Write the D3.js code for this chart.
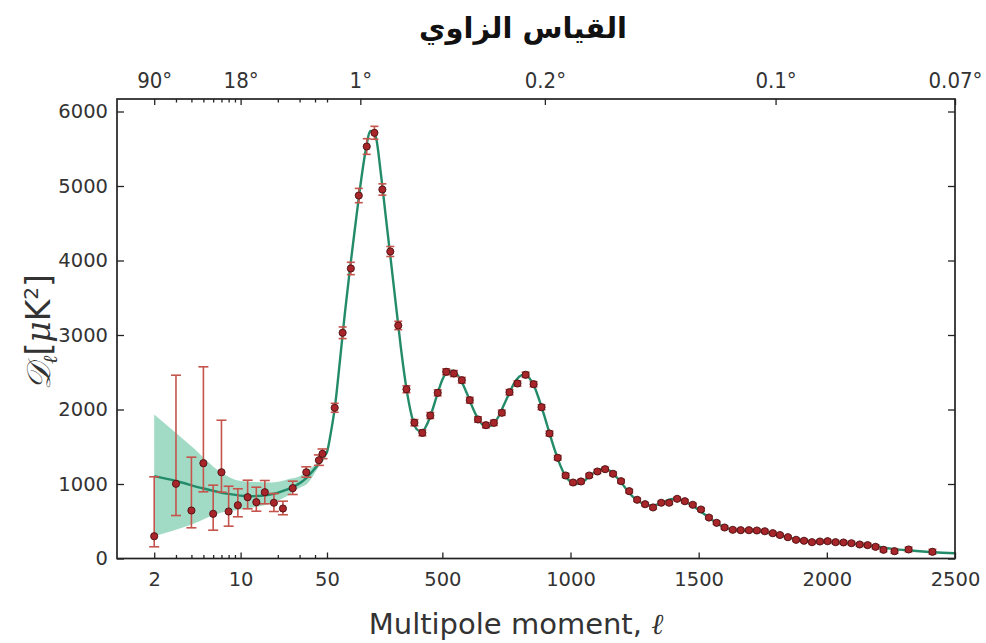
<!DOCTYPE html>
<html>
<head>
<meta charset="utf-8">
<script src="https://cdn.jsdelivr.net/npm/d3@7"></script>
<style>
  body { margin: 0; background: #fff; }
  svg { display: block; }
  .axis text { font-family: "DejaVu Sans", sans-serif; fill: #333; }
  .axis line { stroke: #222; stroke-width: 1.3; }
  .axis path { display: none; }
  .top text { font-family: "DejaVu Sans Condensed", "DejaVu Sans", sans-serif; font-stretch: condensed; }
</style>
</head>
<body>
<svg id="chart" width="986" height="643"></svg>
<script>
  /* DATA */
  // low multipoles (asymmetric error bars)
  var lowEll = [2, 3, 4, 5, 6, 7, 8, 9.5, 11.4, 13.4, 15.7, 18.6, 22, 26.4, 34, 43, 46];
  var lowD   = [299, 1003, 644, 1279, 600, 1158, 631, 715, 823, 756, 890, 748, 671, 944, 1158, 1319, 1405];
  var lowHi  = [1097, 2460, 1360, 2573, 984, 1856, 970, 936, 1051, 957, 1047, 872, 769, 1038, 1231, 1390, 1470];
  var lowLo  = [157, 577, 412, 895, 380, 890, 434, 560, 667, 635, 734, 631, 587, 859, 1091, 1250, 1340];

  // binned high multipoles
  var highEll = [80, 111, 143, 174, 205, 235, 266, 297, 328, 360, 391, 422, 453, 482, 515, 545, 576, 607,
    639, 670, 701, 732, 762, 793, 825, 856, 887, 918, 950, 981, 1010, 1041, 1073, 1105, 1135, 1166,
    1197, 1229, 1260, 1291, 1322, 1354, 1385, 1416, 1446, 1477, 1509, 1540, 1570, 1601, 1633, 1664,
    1696, 1727, 1758, 1789, 1817, 1848, 1880, 1911, 1942, 1973, 2003, 2034, 2065, 2096, 2128, 2159,
    2190, 2221, 2264, 2319, 2412];
  var highD = [2023, 3030, 3893, 4872, 5530, 5714, 4953, 4121, 3128, 2272, 1823, 1687, 1919, 2224, 2506, 2483, 2393, 2125,
    1866, 1789, 1821, 1956, 2232, 2349, 2466, 2340, 2031, 1678, 1352, 1114, 1020, 1034, 1114, 1168, 1199, 1137,
    1038, 904, 788, 729, 685, 748, 748, 801, 769, 721, 658, 550, 479, 416, 385, 380,
    380, 376, 366, 340, 315, 286, 251, 238, 219, 228, 232, 219, 215, 205, 188, 179,
    157, 117, 98, 121, 90];
  var highErr = [60, 78, 83, 96, 105, 87, 76, 67, 56, 47, 42, 40, 40, 40, 40, 40, 38, 38,
    36, 35, 35, 35, 35, 35, 35, 34, 33, 32, 30, 28, 26, 26, 25, 25, 25, 24,
    24, 23, 22, 22, 21, 21, 21, 21, 21, 20, 20, 20, 20, 20, 20, 20,
    20, 20, 20, 20, 20, 20, 20, 20, 20, 20, 21, 21, 22, 22, 23, 24,
    25, 26, 28, 30, 32];

  // best-fit model curve
  var theoryEll = [2, 3, 5, 7.7, 12, 17, 23.6, 30, 34, 40, 44, 47, 50, 55, 60, 70, 80, 100, 120, 140, 160, 180, 200,
    220, 240, 260, 280, 300, 320, 340, 360, 380, 400, 420, 440, 460, 480, 500, 520, 540, 560, 580, 600,
    620, 640, 660, 680, 700, 720, 740, 760, 780, 800, 820, 840, 860, 880, 900, 920, 940, 960, 980, 1000,
    1020, 1040, 1060, 1080, 1100, 1120, 1140, 1160, 1180, 1200, 1220, 1240, 1260, 1280, 1300, 1320, 1340,
    1360, 1380, 1400, 1420, 1440, 1460, 1480, 1500, 1520, 1540, 1560, 1580, 1600, 1620, 1640, 1660, 1700,
    1740, 1780, 1820, 1860, 1900, 1950, 2000, 2050, 2100, 2150, 2200, 2250, 2300, 2350, 2400, 2450, 2500];
  var theoryD = [1105, 1040, 940, 870, 836, 856, 925, 1010, 1080, 1210, 1290, 1370, 1430, 1500, 1590, 1790, 2010, 2640, 3300, 3900, 4460, 5000, 5460,
    5740, 5660, 5170, 4570, 3970, 3370, 2780, 2280, 1920, 1735, 1700, 1800, 1980, 2200, 2400, 2510, 2520, 2460, 2340, 2180,
    2010, 1870, 1790, 1775, 1810, 1910, 2060, 2210, 2350, 2440, 2470, 2420, 2300, 2110, 1890, 1660, 1440, 1250, 1110, 1030,
    1000, 1010, 1060, 1120, 1170, 1200, 1200, 1160, 1090, 1010, 920, 840, 780, 740, 715, 710, 725,
    755, 785, 800, 795, 775, 740, 700, 650, 600, 550, 500, 455, 420, 395, 380, 375, 370,
    360, 335, 305, 275, 250, 230, 220, 212, 200, 182, 158, 133, 115, 100, 88, 78, 70];

  // cosmic variance band at low multipoles
  var bandEll = [2, 4, 7, 10, 18, 25, 30, 34, 44, 50, 55];
  var bandLo  = [300, 456, 617, 658, 748, 859, 949, 993, 1262, 1400, 1480];
  var bandHi  = [1933, 1508, 1154, 1040, 1020, 1070, 1105, 1172, 1329, 1470, 1520];

  // axes
  var yTicks = [0, 1000, 2000, 3000, 4000, 5000, 6000];
  var xTicksLog = [2, 10, 50];
  var xTicksLin = [500, 1000, 1500, 2000, 2500];
  var xMinorLog = [3, 4, 5, 6, 7, 8, 9, 20, 30, 40];
  var topAngles = [90, 18, 1, 0.2, 0.1, 0.07];
  var topLabels = ['90°', '18°', '1°', '0.2°', '0.1°', '0.07°'];

  /* Chart */
  var svg = d3.select('#chart');
  var plot = { left: 117, right: 955, top: 99, bottom: 558.5 };
  var split = 50; // log scale below, linear above

  var xLog = d3.scaleLog().domain([1, split]).range([plot.left, 327]);
  var xLin = d3.scaleLinear().domain([split, 2500]).range([327, plot.right]);
  function x(l) {
    return l <= split ? xLog(l) : xLin(l);
  }
  var y = d3.scaleLinear().domain([0, 6000]).range([558.5, 111.5]);

  // band
  var band = bandEll.map(function (l, i) { return { l: l, lo: bandLo[i], hi: bandHi[i] }; });
  svg.append('path')
    .datum(band)
    .attr('fill', '#a2dbc5')
    .attr('d', d3.area()
      .x(function (d) { return x(d.l); })
      .y0(function (d) { return y(d.lo); })
      .y1(function (d) { return y(d.hi); })
      .curve(d3.curveMonotoneX));

  // model line
  var theory = theoryEll.map(function (l, i) { return { l: l, d: theoryD[i] }; });
  svg.append('path')
    .datum(theory)
    .attr('fill', 'none')
    .attr('stroke', '#238b69')
    .attr('stroke-width', 2.4)
    .attr('d', d3.line()
      .x(function (d) { return x(d.l); })
      .y(function (d) { return y(d.d); })
      .curve(d3.curveMonotoneX));

  // points with error bars
  var points = [];
  lowEll.forEach(function (l, i) {
    points.push({ l: l, d: lowD[i], lo: lowLo[i], hi: lowHi[i], cap: 5 });
  });
  highEll.forEach(function (l, i) {
    points.push({ l: l, d: highD[i], lo: highD[i] - highErr[i], hi: highD[i] + highErr[i], cap: 4 });
  });

  var bars = svg.append('g')
    .attr('stroke', '#c4544c')
    .attr('stroke-width', 1.6)
    .selectAll('g')
    .data(points)
    .join('g');
  bars.append('line')
    .attr('x1', function (d) { return x(d.l); })
    .attr('x2', function (d) { return x(d.l); })
    .attr('y1', function (d) { return y(d.lo); })
    .attr('y2', function (d) { return y(d.hi); });
  bars.append('line')
    .attr('x1', function (d) { return x(d.l) - d.cap; })
    .attr('x2', function (d) { return x(d.l) + d.cap; })
    .attr('y1', function (d) { return y(d.lo); })
    .attr('y2', function (d) { return y(d.lo); });
  bars.append('line')
    .attr('x1', function (d) { return x(d.l) - d.cap; })
    .attr('x2', function (d) { return x(d.l) + d.cap; })
    .attr('y1', function (d) { return y(d.hi); })
    .attr('y2', function (d) { return y(d.hi); });

  svg.append('g')
    .selectAll('circle')
    .data(points)
    .join('circle')
    .attr('cx', function (d) { return x(d.l); })
    .attr('cy', function (d) { return y(d.d); })
    .attr('r', 3.6)
    .attr('fill', '#a8252a')
    .attr('stroke', '#4a1012')
    .attr('stroke-width', 0.9);

  /* Axes */
  var bottomY = plot.bottom;
  function addAxis(axis, tx, ty, cls) {
    return svg.append('g')
      .attr('class', 'axis ' + (cls || ''))
      .attr('transform', 'translate(' + tx + ',' + ty + ')')
      .call(axis);
  }

  // bottom
  addAxis(d3.axisBottom(xLog).tickValues(xTicksLog).tickSizeInner(-6).tickSizeOuter(0)
    .tickPadding(14).tickFormat(d3.format('d')), 0, bottomY)
    .selectAll('text').style('font-size', '19.5px');
  addAxis(d3.axisBottom(xLin).tickValues(xTicksLin).tickSizeInner(-6).tickSizeOuter(0)
    .tickPadding(14).tickFormat(d3.format('d')), 0, bottomY)
    .selectAll('text').style('font-size', '19.5px');
  addAxis(d3.axisBottom(xLog).tickValues(xMinorLog).tickSizeInner(-3.5).tickSizeOuter(0)
    .tickFormat(''), 0, bottomY);

  // top: angular scale, theta = 180 / ell
  var topEll = topAngles.map(function (a) { return Math.min(180 / a, 2500); });
  addAxis(d3.axisTop(xLog).tickValues(topEll.filter(function (l) { return l <= split; }))
    .tickSizeInner(-6).tickSizeOuter(0).tickPadding(11)
    .tickFormat(function (l) { return topLabels[topEll.indexOf(l)]; }), 0, plot.top, 'top')
    .selectAll('text').style('font-size', '22px');
  addAxis(d3.axisTop(xLin).tickValues(topEll.filter(function (l) { return l > split; }))
    .tickSizeInner(-6).tickSizeOuter(0).tickPadding(11)
    .tickFormat(function (l) { return topLabels[topEll.indexOf(l)]; }), 0, plot.top, 'top')
    .selectAll('text').style('font-size', '22px');
  addAxis(d3.axisTop(xLog).tickValues(xMinorLog.concat([50])).tickSizeInner(-3.5).tickSizeOuter(0)
    .tickFormat(''), 0, plot.top);

  // left / right
  addAxis(d3.axisLeft(y).tickValues(yTicks).tickSizeInner(-7).tickSizeOuter(0).tickPadding(9)
    .tickFormat(d3.format('d')), plot.left, 0)
    .selectAll('text').style('font-size', '19.5px');
  addAxis(d3.axisRight(y).tickValues(yTicks).tickSizeInner(-7).tickSizeOuter(0)
    .tickFormat(''), plot.right, 0);

  // frame
  svg.append('rect')
    .attr('x', plot.left)
    .attr('y', plot.top)
    .attr('width', plot.right - plot.left)
    .attr('height', plot.bottom - plot.top)
    .attr('fill', 'none')
    .attr('stroke', '#222')
    .attr('stroke-width', 1.7);

  /* Labels */
  var xlab = svg.append('text')
    .attr('x', 516)
    .attr('y', 634)
    .attr('text-anchor', 'middle')
    .style('font-family', '"DejaVu Sans", sans-serif')
    .style('font-size', '29px')
    .style('fill', '#333');
  xlab.append('tspan').text('Multipole moment, ');
  xlab.append('tspan').style('font-family', '"DejaVu Serif", serif').style('font-style', 'italic').text('ℓ');

  var ylab = svg.append('text')
    .attr('transform', 'translate(50,332) rotate(-90)')
    .attr('text-anchor', 'middle')
    .style('font-family', '"DejaVu Sans", sans-serif')
    .style('font-size', '33px')
    .style('fill', '#333');
  ylab.append('tspan').style('font-family', '"DejaVu Serif", serif').style('font-style', 'italic').text('𝒟');
  ylab.append('tspan').attr('dy', 7).style('font-size', '20px')
    .style('font-family', '"DejaVu Serif", serif').style('font-style', 'italic').text('ℓ');
  ylab.append('tspan').attr('dy', -7).text('[');
  ylab.append('tspan').style('font-family', '"DejaVu Serif", serif').style('font-style', 'italic').text('μ');
  ylab.append('tspan').text('K');
  ylab.append('tspan').attr('dy', -12).style('font-size', '20px').text('2');
  ylab.append('tspan').attr('dy', 12).text(']');

  svg.append('text')
    .attr('x', 523)
    .attr('y', 38)
    .attr('text-anchor', 'middle')
    .style('font-family', '"DejaVu Sans", sans-serif')
    .style('font-weight', 'bold')
    .style('font-size', '29px')
    .style('fill', '#111')
    .text('القياس الزاوي');
</script>
</body>
</html>
